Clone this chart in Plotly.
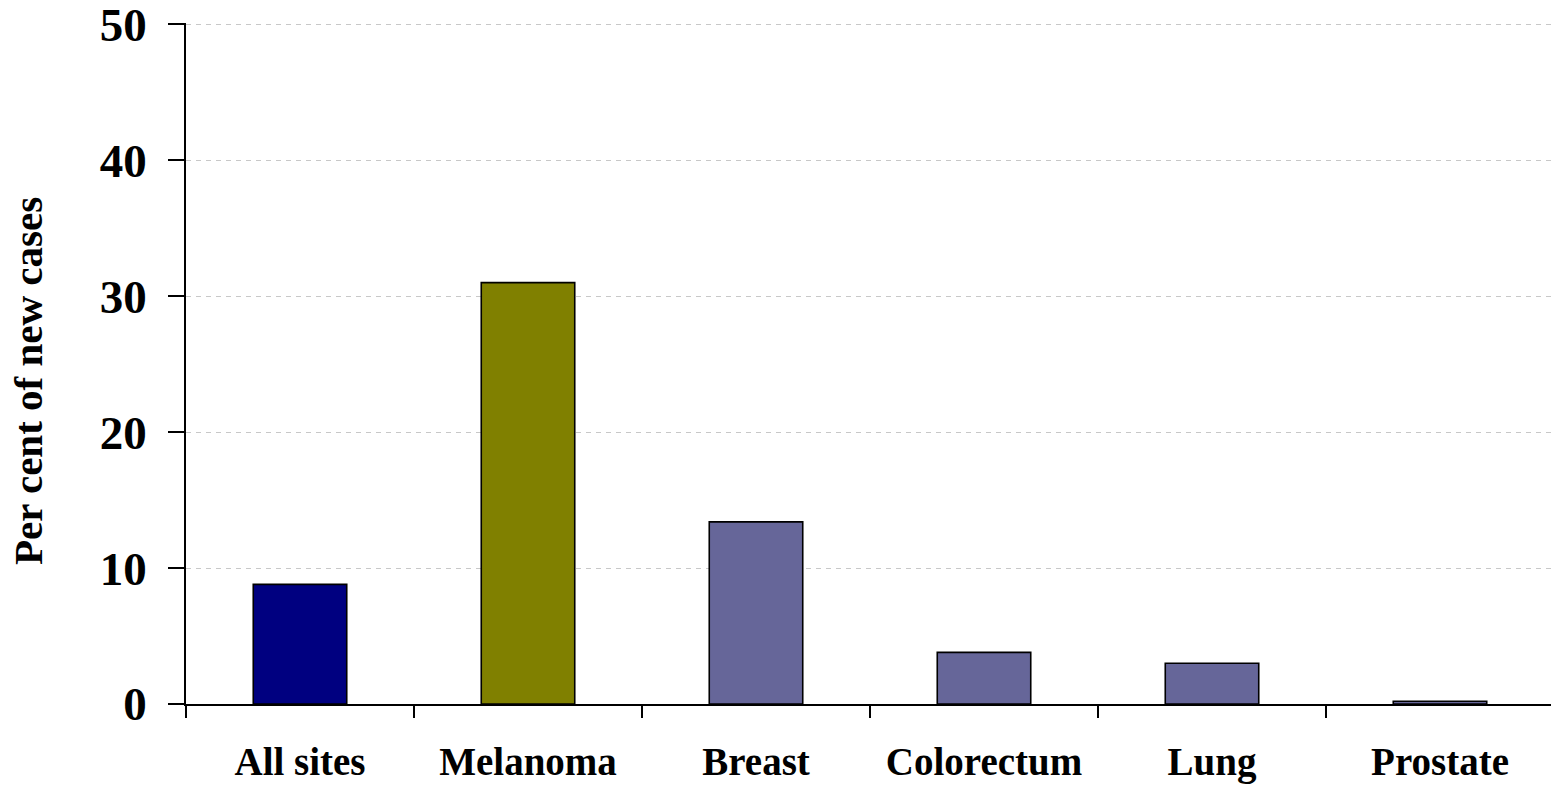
import plotly.graph_objects as go

# Share of new cancer cases by site (per cent)
sites = ["All sites", "Melanoma", "Breast", "Colorectum", "Lung", "Prostate"]
percent = [8.8, 31.0, 13.4, 3.8, 3.0, 0.2]
bar_colors = ["#000080", "#808000", "#666699", "#666699", "#666699", "#666699"]
y_ticks = [0, 10, 20, 30, 40, 50]

W, H = 1551, 787
ML, MT, MB = 186, 23, 83
plot_w = W - ML
cat_px = 228  # pixel width of one category slot

fig = go.Figure(
    go.Bar(
        x=sites,
        y=percent,
        width=0.41,
        marker=dict(color=bar_colors, line=dict(color="#000000", width=1.6)),
        showlegend=False,
    )
)

font_family = "Liberation Serif, Times New Roman, serif"

fig.update_layout(
    width=W,
    height=H,
    margin=dict(l=ML, r=0, t=MT, b=MB, pad=0),
    paper_bgcolor="white",
    plot_bgcolor="white",
    bargap=0.59,
    font=dict(family=font_family, color="#000000"),
)

fig.update_xaxes(
    type="category",
    range=[-0.5, -0.5 + plot_w / cat_px],
    showline=True,
    linecolor="#000000",
    linewidth=1.6,
    ticks="outside",
    tickson="boundaries",
    ticklen=12,
    tickwidth=1.6,
    tickcolor="#000000",
    showgrid=False,
    ticklabelstandoff=22,
    tickfont=dict(family=font_family, size=39, color="#000000", weight="bold"),
)

fig.update_yaxes(
    range=[0, 50.1],
    tickvals=y_ticks,
    showline=True,
    linecolor="#000000",
    linewidth=1.6,
    ticks="outside",
    ticklen=16,
    tickwidth=1.6,
    tickcolor="#000000",
    showgrid=True,
    gridcolor="#c8c8c8",
    gridwidth=1,
    griddash="5px,5px",
    zeroline=False,
    ticklabelstandoff=12,
    ticklabeloverflow="allow",
    tickfont=dict(family=font_family, size=47, color="#000000", weight="bold"),
)

fig.add_annotation(
    text="Per cent of new cases",
    textangle=-90,
    xref="paper",
    yref="paper",
    x=(28 - ML) / plot_w,
    y=(H - MB - 381) / (H - MT - MB),
    xanchor="center",
    yanchor="middle",
    showarrow=False,
    font=dict(family=font_family, size=41, color="#000000", weight="bold"),
)

fig.write_html("out.html")
